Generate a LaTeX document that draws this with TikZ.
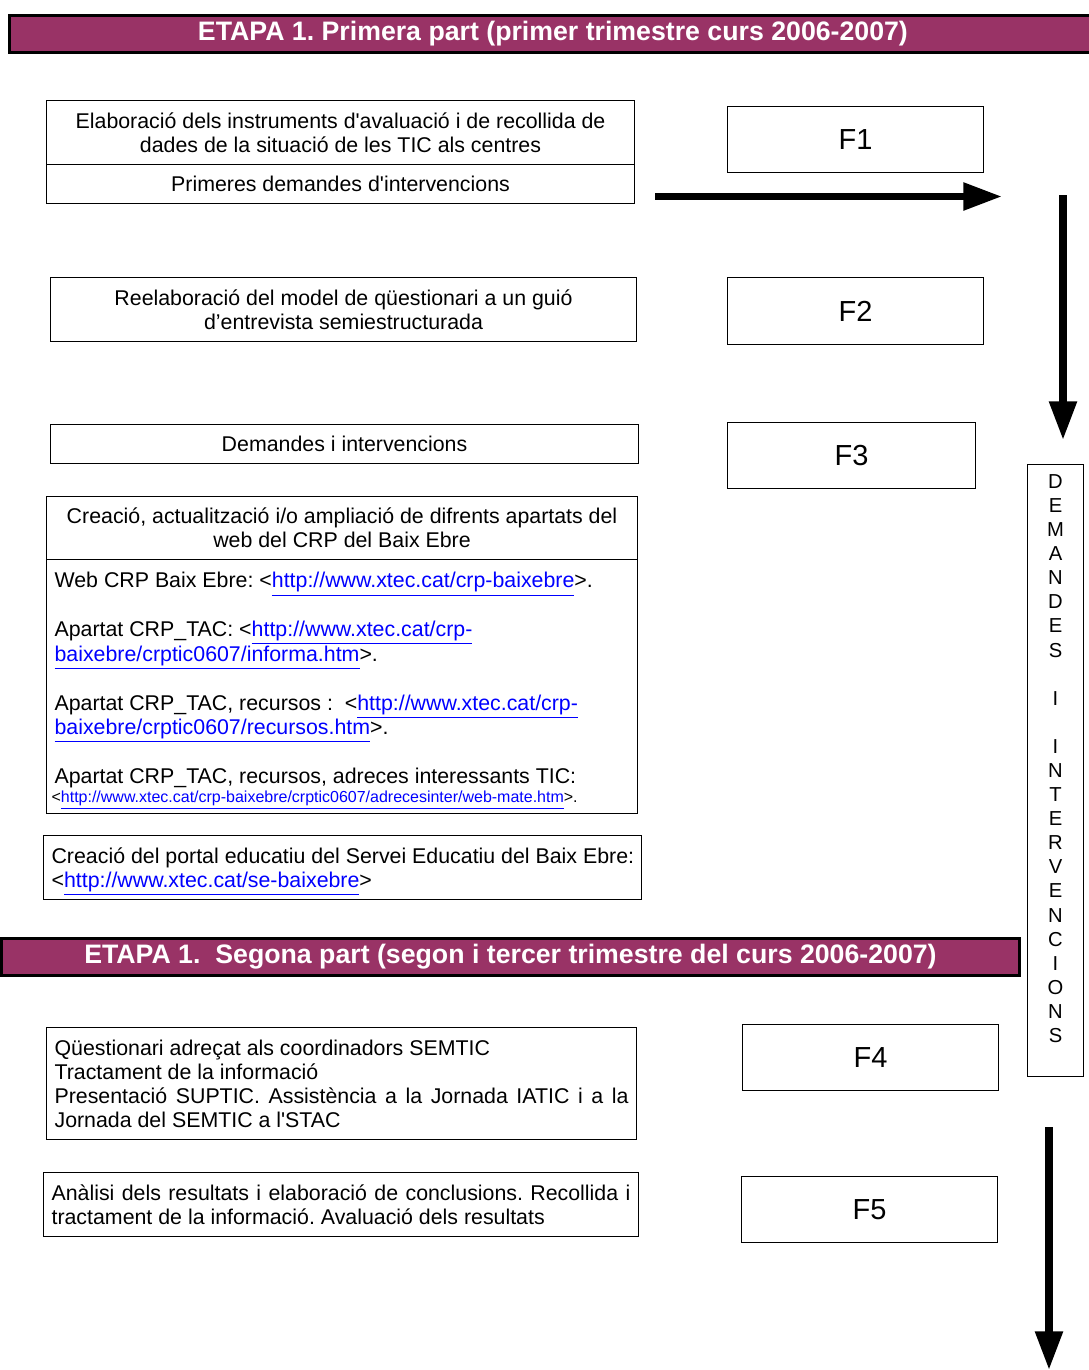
\documentclass[tikz,border=0pt]{standalone}
\usepackage{fontspec}
\setmainfont{Liberation Sans}[Ligatures=TeXOff]
\usetikzlibrary{arrows.meta}
\definecolor{etapa}{HTML}{993366}
\definecolor{enllac}{HTML}{0000FF}
\newcommand{\enllac}[1]{\textcolor{enllac}{\underline{#1}}}
\frenchspacing
\begin{document}
\begin{tikzpicture}[x=0.02cm,y=-0.02cm,
  mida/.style 2 args={minimum width=#1*0.02cm,minimum height=#2*0.02cm,anchor=north west},
  caixa/.style={draw,line width=0.6pt,inner sep=0pt,font=\fontsize{12.15pt}{13.7pt}\selectfont,
    execute at begin node={\spaceskip=0pt\xspaceskip=0pt\relax}},
  fase/.style={caixa,font=\fontsize{16.5pt}{18pt}\selectfont},
  etapa/.style={draw,line width=1.7pt,fill=etapa,inner sep=0pt,text=white,
    font=\bfseries\fontsize{15.2pt}{18pt}\selectfont},
  fletxa/.style={line width=4.2pt,-{Triangle[length=22pt,width=15pt]}}]
\useasboundingbox (0,0) rectangle (1089,1370);
% primera part
\node[etapa,mida={1087}{37}] (etapaA) at (8,14) {ETAPA 1. Primera part (primer trimestre curs 2006-2007)};
\node[caixa,mida={588}{64},align=center] (elab) at (46,100) {Elaboració dels instruments d'avaluació i de recollida de\\dades de la situació de les TIC als centres};
\node[caixa,mida={588}{39}] (primeres) at (46,164) {Primeres demandes d'intervencions};
\node[fase,mida={256}{66}] (f1) at (727,106) {F1};
\node[caixa,mida={586}{64},align=center] (reelab) at (50,277) {Reelaboració del model de qüestionari a un guió\\d’entrevista semiestructurada};
\node[fase,mida={256}{67}] (f2) at (727,277) {F2};
\node[caixa,mida={588}{39}] (demandes) at (50,424) {Demandes i intervencions};
\node[fase,mida={248}{66}] (f3) at (727,422) {F3};
\node[caixa,mida={591}{63},align=center] (creacio) at (46,496) {Creació, actualització i/o ampliació de difrents apartats del\\web del CRP del Baix Ebre};
\node[caixa,mida={591}{254},text width=11.5cm,align=left,font=\fontsize{12.15pt}{13.9pt}\selectfont] (webs) at (46,559) {\rule{0pt}{14pt}Web CRP Baix Ebre: <\enllac{http://www.xtec.cat/crp-baixebre}>.\\[13.9pt]
Apartat CRP\_TAC: <\enllac{http://www.xtec.cat/crp-}\\
\enllac{baixebre/crptic0607/informa.htm}>.\\[13.9pt]
Apartat CRP\_TAC, recursos :~ <\enllac{http://www.xtec.cat/crp-}\\
\enllac{baixebre/crptic0607/recursos.htm}>.\\[13.9pt]
Apartat CRP\_TAC, recursos, adreces interessants TIC:\\[-2.8pt]
\hspace*{-1.7pt}{\fontsize{9.1pt}{10pt}\selectfont <\enllac{http://www.xtec.cat/crp-baixebre/crptic0607/adrecesinter/web-mate.htm}>.}};
\node[caixa,mida={598}{64},text width=11.64cm,align=left] (portal) at (43,835) {\rule{0pt}{13.5pt}\mbox{Creació del portal educatiu del Servei Educatiu del Baix Ebre:}\\<\enllac{http://www.xtec.cat/se-baixebre}>};
% segona part
\node[etapa,mida={1018}{37}] (etapaB) at (0,937) {ETAPA 1.~ Segona part (segon i tercer trimestre del curs 2006-2007)};
\node[caixa,mida={590}{112},text width=11.48cm,align=left] (quest) at (46,1027) {Qüestionari adreçat als coordinadors SEMTIC\\
Tractament de la informació\\
\makebox[11.48cm][s]{Presentació SUPTIC. Assistència a la Jornada IATIC i a la}\\
Jornada del SEMTIC a l'STAC};
\node[fase,mida={256}{66}] (f4) at (742,1024) {F4};
\node[caixa,mida={595}{64},text width=11.58cm,align=left] (anal) at (43,1172) {\makebox[11.58cm][s]{Anàlisi dels resultats i elaboració de conclusions. Recollida i}\\
tractament de la informació. Avaluació dels resultats};
\node[fase,mida={256}{66}] (f5) at (741,1176) {F5};
% columna de la dreta
\node[caixa,mida={56}{612},align=center,font=\fontsize{11.5pt}{13.71pt}\selectfont] (vert) at (1027,464) {D\\E\\M\\A\\N\\D\\E\\S\\\mbox{}\\I\\\mbox{}\\I\\N\\T\\E\\R\\V\\E\\N\\C\\I\\O\\N\\S\\\mbox{}};
\coordinate (h1) at (655,196.5);
\coordinate (h2) at (1002,196.5);
\coordinate (v1) at (1063,195);
\coordinate (v2) at (1063,440);
\coordinate (v3) at (1049,1127);
\coordinate (v4) at (1049,1370);
\draw[fletxa] (h1)--(h2);
\draw[fletxa] (v1)--(v2);
\draw[fletxa] (v3)--(v4);
\end{tikzpicture}
\end{document}
